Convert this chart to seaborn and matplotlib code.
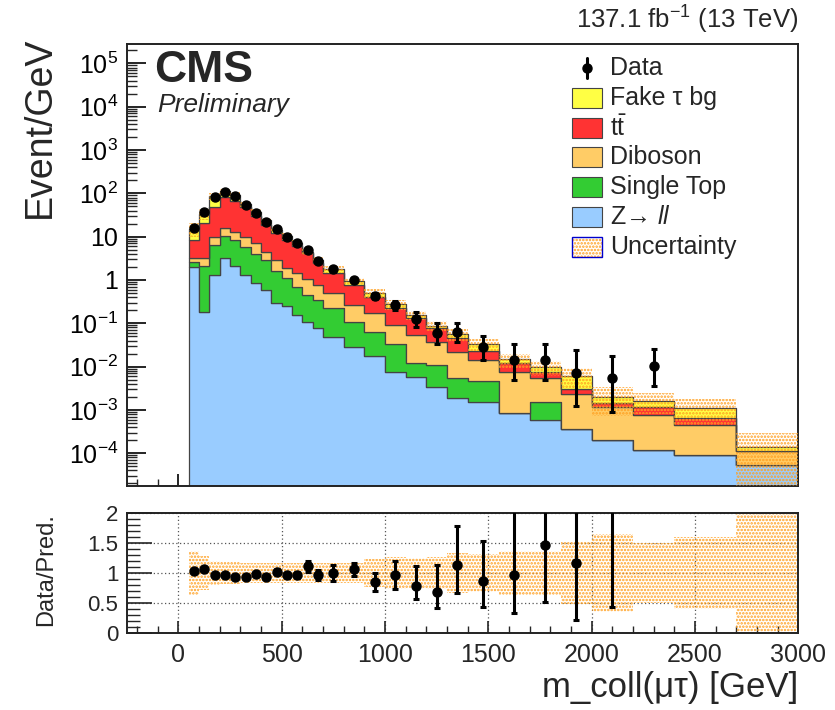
import numpy as np
import pandas as pd
import matplotlib
matplotlib.use("Agg")
import matplotlib.pyplot as plt
from matplotlib.patches import Rectangle
from matplotlib.lines import Line2D
import matplotlib.ticker as mticker
import seaborn as sns

sns.set_theme(style="ticks")
plt.rcParams['font.family'] = ['Liberation Sans', 'DejaVu Sans']
plt.rcParams['mathtext.fontset'] = 'custom'
plt.rcParams['mathtext.rm'] = 'Liberation Sans'
plt.rcParams['mathtext.it'] = 'Liberation Sans:italic'
plt.rcParams['mathtext.bf'] = 'Liberation Sans:bold'
plt.rcParams['hatch.linewidth'] = 1.2

# ---------------- data ----------------
edges = [50, 100, 150, 200, 250, 300, 350, 400, 450, 500, 550, 600, 650, 700,
         800, 900, 1000, 1100, 1200, 1300, 1400, 1550, 1700, 1850, 2000, 2200,
         2400, 2700, 3000]

z_ll = [2.0, 0.185, 1.30, 3.17, 2.1, 1.3, 0.84, 0.59, 0.29, 0.25, 0.155, 0.109,
        0.077, 0.047, 0.029, 0.0176, 0.0076, 0.0058, 0.0034, 0.00185, 0.00155,
        0.00083, 0.00058, 0.00036, 0.0002, 0.000119, 0.000091, 0.000053]
single_top = [0.54, 1.92, 5.1, 7.2, 6.3, 4.6, 3.16, 2.31, 1.35, 0.84, 0.545,
              0.341, 0.268, 0.173, 0.080, 0.046, 0.026, 0.0061, 0.0075, 0.0036,
              0.0030, 0.0, 0.00097, 0.0, 0.0, 0.0, 0.0, 0.0]
diboson = [0.63, 1.17, 3.3, 5.7, 4.7, 4.1, 3.0, 1.6, 1.26, 0.77, 0.73, 0.59,
           0.425, 0.27, 0.156, 0.106, 0.057, 0.042, 0.027, 0.0166, 0.0097,
           0.0068, 0.00385, 0.00197, 0.00095, 0.00064, 0.00036, 0.000062]
ttbar = [5.2, 17.1, 39.6, 65, 55, 37.7, 23, 14.1, 9.5, 6.54, 4.67, 3.16, 1.66,
         0.94, 0.505, 0.24, 0.129, 0.076, 0.039, 0.023, 0.0091, 0.0043, 0.0022,
         0.00067, 0.00032, 0.00043, 0.00019, 0.0]
fake_tau = [6.6, 13.8, 36.4, 31, 24.5, 9.7, 6.6, 5.0, 2.1, 1.7, 1.2, 0.24, 0.45,
            0.33, 0.17, 0.096, 0.053, 0.027, 0.011, 0.011, 0.0103, 0.0027,
            0.0021, 0.0031, 0.00055, 0.00041, 0.00049, 0.000026]

nan = np.nan
data = [15.6, 36.6, 84, 109, 87, 54, 35.9, 22.2, 14.8, 9.7, 7.0, 4.93, 2.79,
        1.76, 1.0, 0.43, 0.265, 0.124, 0.061, 0.064, 0.0289, 0.0142, 0.0142,
        0.0070, 0.0054, 0.0105, nan, nan]
data_err_lo = [0.6, 0.9, 1.3, 1.5, 1.3, 1.0, 0.85, 0.65, 0.55, 0.45, 0.37, 0.4,
               0.22, 0.22, 0.10, 0.075, 0.06, 0.04, 0.027, 0.027, 0.0147,
               0.0093, 0.0093, 0.0058, 0.0045, 0.0069, nan, nan]
data_err_hi = [0.6, 0.9, 1.3, 1.5, 1.3, 1.0, 0.85, 0.65, 0.55, 0.45, 0.37, 0.4,
               0.22, 0.22, 0.10, 0.075, 0.06, 0.06, 0.043, 0.040, 0.022,
               0.0185, 0.0185, 0.0172, 0.0122, 0.0145, nan, nan]

ratio = [1.04, 1.07, 0.97, 0.97, 0.94, 0.94, 0.98, 0.94, 1.02, 0.96, 0.96, 1.11,
         0.97, 1.0, 1.06, 0.85, 0.97, 0.79, 0.69, 1.14, 0.86, 0.97, 1.47, 1.17,
         2.7, 6.0, nan, nan]
ratio_err_lo = [0.03, 0.03, 0.02, 0.02, 0.02, 0.02, 0.02, 0.03, 0.04, 0.04,
                0.05, 0.09, 0.08, 0.13, 0.11, 0.15, 0.23, 0.23, 0.27, 0.47,
                0.42, 0.64, 0.95, 0.96, 2.26, 3.8, nan, nan]
ratio_err_hi = [0.03, 0.03, 0.02, 0.02, 0.02, 0.02, 0.02, 0.03, 0.04, 0.04,
                0.05, 0.09, 0.08, 0.13, 0.11, 0.15, 0.23, 0.32, 0.44, 0.65,
                0.67, 1.3, 1.3, 1.5, 2.0, 4.0, nan, nan]
rel_unc = [0.36, 0.28, 0.2, 0.18, 0.18, 0.17, 0.17, 0.17, 0.17, 0.17, 0.17,
           0.17, 0.17, 0.17, 0.17, 0.24, 0.26, 0.25, 0.26, 0.33, 0.32, 0.37,
           0.36, 0.51, 0.65, 0.5, 0.6, 1.1]

processes = ['Z→ ll', 'Single Top', 'Diboson', 'tt', 'Fake τ bg']
colors = {'Z→ ll': '#99ccff', 'Single Top': '#33cc33', 'Diboson': '#ffcc66',
          'tt': '#ff3333', 'Fake τ bg': '#ffff44'}
legend_labels = ['Data', 'Fake τ bg', r'$\mathrm{t}\bar{\mathrm{t}}$', 'Diboson',
                 'Single Top', r'Z→ $\mathit{ll}$', 'Uncertainty']

# ---------------- build frames ----------------
e = np.array(edges, dtype=float)
centers = 0.5 * (e[:-1] + e[1:])
series = [z_ll, single_top, diboson, ttbar, fake_tau]
rows = []
for p, vals in zip(processes, series):
    for c, v in zip(centers, vals):
        rows.append({'x': c, 'w': v, 'process': p})
df = pd.DataFrame(rows)
total = np.sum(np.array(series, dtype=float), axis=0)
unc = np.array(rel_unc)

W, H = 835, 710
fig = plt.figure(figsize=(W / 100, H / 100), dpi=100)
L, R = 126.7, 798.3
ax = fig.add_axes([L / W, 1 - 486 / H, (R - L) / W, (486 - 44) / H])
rax = fig.add_axes([L / W, 1 - 633 / H, (R - L) / W, (633 - 513) / H])

ax.set_yscale('log')
# seaborn stacks the first hue level on top, so pass the order top -> bottom
sns.histplot(data=df, x='x', weights='w', hue='process',
             hue_order=processes[::-1],
             bins=edges, multiple='stack', element='step', fill=True,
             palette=colors, alpha=1, linewidth=0.9, edgecolor='#444444',
             legend=False, ax=ax)

# uncertainty band (top)
up = total * (1 + unc)
dn = np.clip(total * (1 - unc), 1e-7, None)
ax.fill_between(e, np.append(dn, dn[-1]), np.append(up, up[-1]), step='post',
                facecolor='none', edgecolor='#ffa020', hatch='.....',
                linewidth=0, zorder=5)

# data
ax.errorbar(centers, data, yerr=[data_err_lo, data_err_hi], fmt='o',
            color='black', ms=6.5, elinewidth=2.2, capsize=2.5, capthick=2.2,
            zorder=10)

ax.set_xlim(-250, 3000)
ax.set_ylim(1.75e-5, 2.8e5)
ax.set_xlabel('')
ax.set_ylabel('')
ax.yaxis.set_major_locator(mticker.LogLocator(base=10, numticks=20))
ax.yaxis.set_minor_locator(mticker.LogLocator(base=10, subs=np.arange(2, 10), numticks=20))


def logfmt(v, pos):
    n = int(round(np.log10(v)))
    if n == 0:
        return '1'
    if n == 1:
        return '10'
    return r'$10^{%d}$' % n


ax.yaxis.set_major_formatter(mticker.FuncFormatter(logfmt))
ax.yaxis.set_minor_formatter(mticker.NullFormatter())
ax.xaxis.set_major_locator(mticker.MultipleLocator(500))
ax.xaxis.set_minor_locator(mticker.MultipleLocator(100))
ax.tick_params(axis='both', which='major', direction='in', length=14, width=1.2,
               labelsize=18, pad=6, labelbottom=False, top=False, right=False,
               colors='black')
ax.tick_params(axis='both', which='minor', direction='in', length=7, width=1.0,
               top=False, right=False)
ax.tick_params(axis='x', which='major', length=9)
ax.tick_params(axis='x', which='minor', length=5)
for s in ax.spines.values():
    s.set_color('#222222')
    s.set_linewidth(1.4)

# ---------------- ratio panel ----------------
rax.fill_between(e, np.append(1 - unc, 1 - unc[-1]), np.append(1 + unc, 1 + unc[-1]),
                 step='post', facecolor='none', edgecolor='#ffa020',
                 hatch='.....', linewidth=0, zorder=2)
rax.errorbar(centers, ratio, yerr=[ratio_err_lo, ratio_err_hi], fmt='o',
             color='black', ms=6.5, elinewidth=2.2, capsize=2.5, capthick=2.2,
             zorder=10)
rax.set_xlim(-250, 3000)
rax.set_ylim(0, 2)
rax.xaxis.set_major_locator(mticker.MultipleLocator(500))
rax.xaxis.set_minor_locator(mticker.MultipleLocator(100))
rax.yaxis.set_major_locator(mticker.MultipleLocator(0.5))
rax.yaxis.set_minor_locator(mticker.MultipleLocator(0.1))
rax.yaxis.set_major_formatter(mticker.FuncFormatter(lambda v, p: ('%g' % v)))
rax.grid(True, which='major', linestyle=(0, (1, 2)), color='#555555', linewidth=0.9)
rax.tick_params(axis='both', which='major', direction='in', length=9, width=1.2,
                labelsize=18, top=False, right=False)
rax.tick_params(axis='y', which='major', labelsize=16, length=18, pad=6)
rax.tick_params(axis='both', which='minor', direction='in', length=9, width=1.0,
                top=False, right=False)
rax.tick_params(axis='x', which='minor', length=5)
rax.tick_params(axis='x', which='major', pad=7)
for s in rax.spines.values():
    s.set_color('#222222')
    s.set_linewidth(1.4)
rax.set_axisbelow(True)

# ---------------- texts ----------------
fig.text(798 / W, 1 - 20 / H, r'137.1 fb$^{-1}$ (13 TeV)', ha='right',
         va='center', fontsize=18.5)
fig.text(154 / W, 1 - 70 / H, 'CMS', weight='bold', fontsize=32, va='center')
fig.text(157 / W, 1 - 105 / H, 'Preliminary', style='italic', fontsize=19,
         va='center')
fig.text(40 / W, 1 - 37 / H, 'Event/GeV', rotation=90, ha='center', va='top',
         fontsize=27)
fig.text(46 / W, 1 - 570 / H, 'Data/Pred.', rotation=90, ha='center',
         va='center', fontsize=17)
fig.text(798 / W, 1 - 688 / H, 'm_coll(μτ) [GeV]', ha='right', va='center',
         fontsize=25)

# ---------------- legend (manual) ----------------
leg_rows = [68, 98, 128, 157, 187, 217, 247]
leg_colors = [None, colors['Fake τ bg'], colors['tt'], colors['Diboson'],
              colors['Single Top'], colors['Z→ ll'], None]
for i, (yy, lab, col) in enumerate(zip(leg_rows, legend_labels, leg_colors)):
    yf = 1 - yy / H
    if i == 0:
        fig.add_artist(Line2D([587 / W, 587 / W], [yf - 10 / H, yf + 10 / H],
                              color='black', lw=2.2, transform=fig.transFigure))
        fig.add_artist(Line2D([587 / W], [yf], marker='o', ms=6.5, color='black',
                              transform=fig.transFigure))
    elif i == 6:
        fig.add_artist(Rectangle((572 / W, yf - 10 / H), 30 / W, 20 / H,
                                 facecolor='none', edgecolor='#ffa020',
                                 hatch='.....', lw=0, transform=fig.transFigure))
        fig.add_artist(Rectangle((572 / W, yf - 10 / H), 30 / W, 20 / H,
                                 facecolor='none', edgecolor='#0000cc',
                                 lw=1.0, transform=fig.transFigure))
    else:
        fig.add_artist(Rectangle((572 / W, yf - 10 / H), 30 / W, 20 / H,
                                 facecolor=col, edgecolor='#444444', lw=0.8,
                                 transform=fig.transFigure))
    fig.text(610 / W, yf, lab, ha='left', va='center', fontsize=18)

fig.savefig('out.png', dpi=100)
